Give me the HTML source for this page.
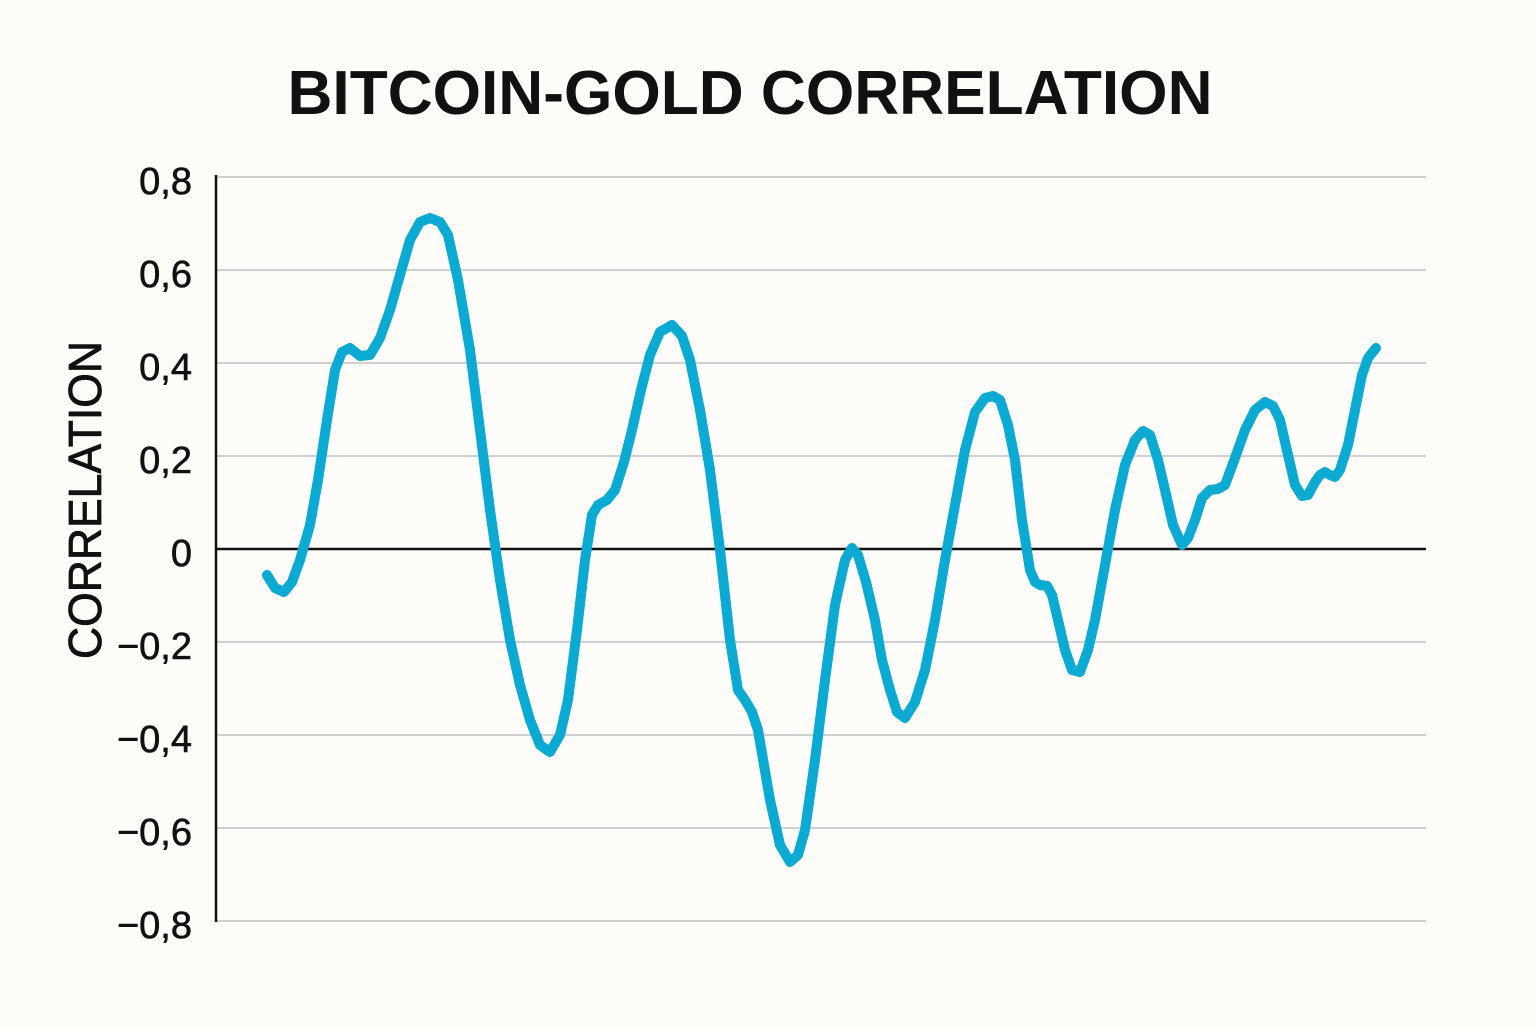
<!DOCTYPE html>
<html><head><meta charset="utf-8"><style>body{margin:0;background:#fdfcf8}</style></head>
<body>
<svg width="1536" height="1024" viewBox="0 0 1536 1024" xmlns="http://www.w3.org/2000/svg" font-family="Liberation Sans, sans-serif">
<rect width="1536" height="1024" fill="#fdfcf8"/>
<text x="750" y="114" text-anchor="middle" font-size="62" font-weight="bold" fill="#111" textLength="925" lengthAdjust="spacingAndGlyphs">BITCOIN-GOLD CORRELATION</text>
<g stroke="#d0d0d0" stroke-width="2">
<line x1="216" y1="177" x2="1426" y2="177"/>
<line x1="216" y1="270" x2="1426" y2="270"/>
<line x1="216" y1="363" x2="1426" y2="363"/>
<line x1="216" y1="456" x2="1426" y2="456"/>
<line x1="216" y1="642" x2="1426" y2="642"/>
<line x1="216" y1="735" x2="1426" y2="735"/>
<line x1="216" y1="828" x2="1426" y2="828"/>
<line x1="216" y1="921" x2="1426" y2="921"/>
</g>
<line x1="216" y1="549" x2="1426" y2="549" stroke="#111" stroke-width="2.5"/>
<line x1="216" y1="175" x2="216" y2="922" stroke="#111" stroke-width="2.5"/>
<g font-size="38" fill="#111" text-anchor="end" stroke="#111" stroke-width="0.6">
<text x="192" y="194">0,8</text>
<text x="192" y="287">0,6</text>
<text x="192" y="380">0,4</text>
<text x="192" y="473">0,2</text>
<text x="192" y="566">0</text>
<text x="192" y="659">−0,2</text>
<text x="192" y="752">−0,4</text>
<text x="192" y="845">−0,6</text>
<text x="192" y="938">−0,8</text>
</g>
<text transform="translate(101,500) rotate(-90)" text-anchor="middle" font-size="46" fill="#111" stroke="#111" stroke-width="0.8" textLength="318" lengthAdjust="spacingAndGlyphs">CORRELATION</text>
<polyline fill="none" stroke="#0aaad3" stroke-width="10" stroke-linejoin="round" stroke-linecap="round"
points="267,575 275,588 284,592 292,582 300,560 310,525 318,480 327,420 335,370 342,352 350,348 360,356 370,355 380,338 390,310 400,275 410,240 420,222 430,218 440,222 448,235 458,280 470,350 480,430 490,510 500,580 510,640 520,685 530,720 540,745 550,752 560,735 568,700 577,630 585,560 592,515 598,505 607,500 615,490 624,462 632,430 641,390 650,355 660,332 672,325 682,336 690,360 700,410 710,470 720,550 730,640 738,690 745,700 752,712 758,730 764,765 770,800 780,845 790,862 798,855 805,830 815,760 825,680 835,605 845,560 852,548 858,555 866,582 875,620 882,660 890,690 897,712 905,718 915,702 925,670 935,620 945,560 955,505 965,450 975,412 985,398 993,396 1000,400 1008,425 1015,460 1022,520 1030,570 1035,582 1040,585 1047,586 1052,595 1058,620 1065,650 1072,670 1080,672 1088,650 1095,620 1105,565 1115,510 1125,465 1135,440 1143,431 1150,435 1158,460 1165,490 1173,525 1182,545 1188,538 1195,520 1202,498 1210,490 1218,489 1225,485 1235,458 1245,430 1255,410 1265,402 1273,406 1280,420 1288,455 1295,485 1302,496 1308,495 1315,482 1320,475 1325,472 1330,475 1335,477 1340,470 1348,445 1355,410 1362,375 1368,358 1376,348"/>
</svg>
</body></html>
